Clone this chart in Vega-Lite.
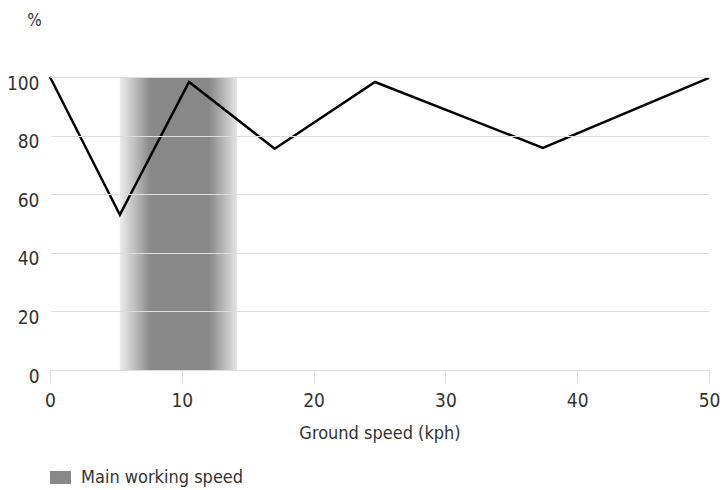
{
  "$schema": "https://vega.github.io/schema/vega-lite/v6.json",
  "width": 659,
  "height": 293,
  "autosize": {"type": "none"},
  "padding": {"left": 50, "top": 77, "right": 14, "bottom": 120},
  "config": {
    "view": {"stroke": null},
    "font": "DejaVu Sans Condensed",
    "axis": {"labelFont": "DejaVu Sans Condensed", "titleFont": "DejaVu Sans Condensed", "labelColor": "#333", "titleColor": "#333", "labelFontSize": 19, "titleFontSize": 18, "titleFontWeight": "normal"},
    "legend": {"labelFont": "DejaVu Sans Condensed", "labelFontSize": 18, "labelColor": "#333", "labelLimit": 400}
  },
  "datasets": {
    "curve": [
      {"speed": 0, "pct": 100},
      {"speed": 5.3, "pct": 53},
      {"speed": 10.55, "pct": 98.3},
      {"speed": 17.05, "pct": 75.5},
      {"speed": 24.66, "pct": 98.3},
      {"speed": 37.4, "pct": 75.8},
      {"speed": 50, "pct": 99.7}
    ],
    "band": [
      {"from": 5.3, "to": 14.2, "top": 100, "bottom": 0, "label": "Main working speed"}
    ]
  },
  "layer": [
    {
      "data": {"name": "band"},
      "mark": {
        "type": "rect",
        "fill": {
          "gradient": "linear",
          "x1": 0, "x2": 1, "y1": 0, "y2": 0,
          "stops": [
            {"offset": 0, "color": "#ececec"},
            {"offset": 0.1, "color": "#c8c8c8"},
            {"offset": 0.26, "color": "#888888"},
            {"offset": 0.76, "color": "#888888"},
            {"offset": 0.9, "color": "#bdbdbd"},
            {"offset": 1, "color": "#e4e4e4"}
          ]
        }
      },
      "encoding": {
        "x": {"field": "from", "type": "quantitative", "scale": {"domain": [0, 50], "nice": false},
          "axis": {"values": [0, 10, 20, 30, 40, 50], "grid": false, "domainColor": "#dddddd", "tickColor": "#dddddd", "tickSize": 13, "labelPadding": 8, "labelFlush": false, "title": "Ground speed (kph)", "titleY": 68, "titleBaseline": "alphabetic"}},
        "x2": {"field": "to"},
        "y": {"field": "top", "type": "quantitative", "scale": {"domain": [0, 100], "nice": false},
          "axis": {"values": [0, 20, 40, 60, 80, 100], "grid": true, "gridColor": "#dddddd", "domain": false, "ticks": false, "labelPadding": 11, "labelOffset": 6, "zindex": 1, "title": "%", "titleFontSize": 17, "titleAngle": 0, "titleX": -16, "titleY": -57, "titleAlign": "center", "titleBaseline": "middle"}},
        "y2": {"field": "bottom"}
      }
    },
    {
      "data": {"name": "band"},
      "mark": {"type": "rect"},
      "encoding": {
        "x": {"field": "from", "type": "quantitative"},
        "x2": {"field": "from"},
        "y": {"field": "top", "type": "quantitative"},
        "y2": {"field": "top"},
        "color": {"field": "label", "type": "nominal", "scale": {"range": ["#888888"]},
          "legend": {"title": null, "orient": "none", "legendX": 0, "legendY": 390, "symbolType": "M-1,-0.62H1V0.62H-1Z", "symbolSize": 441, "symbolStrokeWidth": 0, "labelOffset": 10}}
      }
    },
    {
      "data": {"name": "curve"},
      "mark": {"type": "line", "color": "#000000", "strokeWidth": 2.5},
      "encoding": {
        "x": {"field": "speed", "type": "quantitative"},
        "y": {"field": "pct", "type": "quantitative"}
      }
    }
  ]
}
